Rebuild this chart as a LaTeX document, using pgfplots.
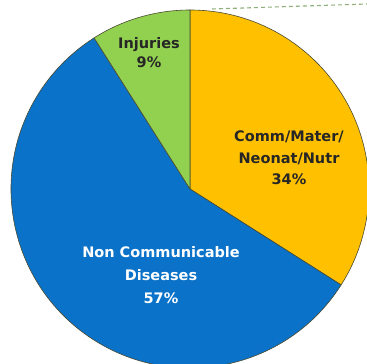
\documentclass[border=0pt]{standalone}
\usepackage{pgfplots}
\pgfplotsset{compat=1.18}
\usepackage{pgfplotstable}
\usetikzlibrary{calc}
\usepackage{fontspec}
\setmainfont{Liberation Sans}
\newfontfamily\lblfont{DejaVu Sans}

\definecolor{commyellow}{HTML}{FFC000}
\definecolor{ncdblue}{HTML}{0A72C8}
\definecolor{injgreen}{HTML}{92D050}
\definecolor{edgegrey}{HTML}{4A4A30}
\definecolor{linkgreen}{HTML}{8FB07A}

% share of deaths by cause group (percent), in clockwise order from 12 o'clock
\pgfplotstableread{
share colour
34 commyellow
57 ncdblue
9  injgreen
}\causes

\begin{document}
\begin{tikzpicture}
\begin{axis}[
  width=367pt, height=364pt, scale only axis,
  xmin=0, xmax=367, ymin=0, ymax=364,
  hide axis, clip=true,
]
  % pie centre and radius in axis units
  \def\cx{190}\def\cy{175}\def\rr{179}
  \pgfmathsetmacro{\startang}{90}
  \pgfplotstablegetrowsof{\causes}
  \pgfmathtruncatemacro{\nrows}{\pgfplotsretval-1}
  \pgfplotsforeachungrouped \i in {0,...,\nrows}{%
    \pgfplotstablegetelem{\i}{share}\of{\causes}\let\val\pgfplotsretval
    \pgfplotstablegetelem{\i}{colour}\of{\causes}\let\col\pgfplotsretval
    \pgfmathsetmacro{\endang}{\startang-3.6*\val}
    \edef\doslice{\noexpand\filldraw[fill=\col, draw=edgegrey, line width=0.6pt, line join=round]
      (axis cs:\cx,\cy) -- ($(axis cs:\cx,\cy)+(\startang:\rr pt)$)
      arc[start angle=\startang, end angle=\endang, radius=\rr pt] -- cycle;}
    \doslice
    \global\let\startang\endang
  }
  % connector line towards the breakdown
  \draw[linkgreen, dash pattern=on 4pt off 3pt, line width=1.1pt] (axis cs:212,355) -- (axis cs:367,360);

  \node[font=\lblfont\bfseries\fontsize{14.5}{19}\selectfont, align=center, text=black!85]
    at (axis cs:149,311) {Injuries\\9\%};
  \node[font=\lblfont\bfseries\fontsize{14.5}{21.5}\selectfont, align=center, text=black!85]
    at (axis cs:289,206) {Comm/Mater/\\Neonat/Nutr\\34\%};
  \node[font=\lblfont\bfseries\fontsize{14.5}{23}\selectfont, align=center, text=white]
    at (axis cs:161,89) {Non Communicable\\Diseases\\57\%};
\end{axis}
\pgfresetboundingbox
\path (current axis.south west) rectangle (current axis.north east);
\end{tikzpicture}
\end{document}
